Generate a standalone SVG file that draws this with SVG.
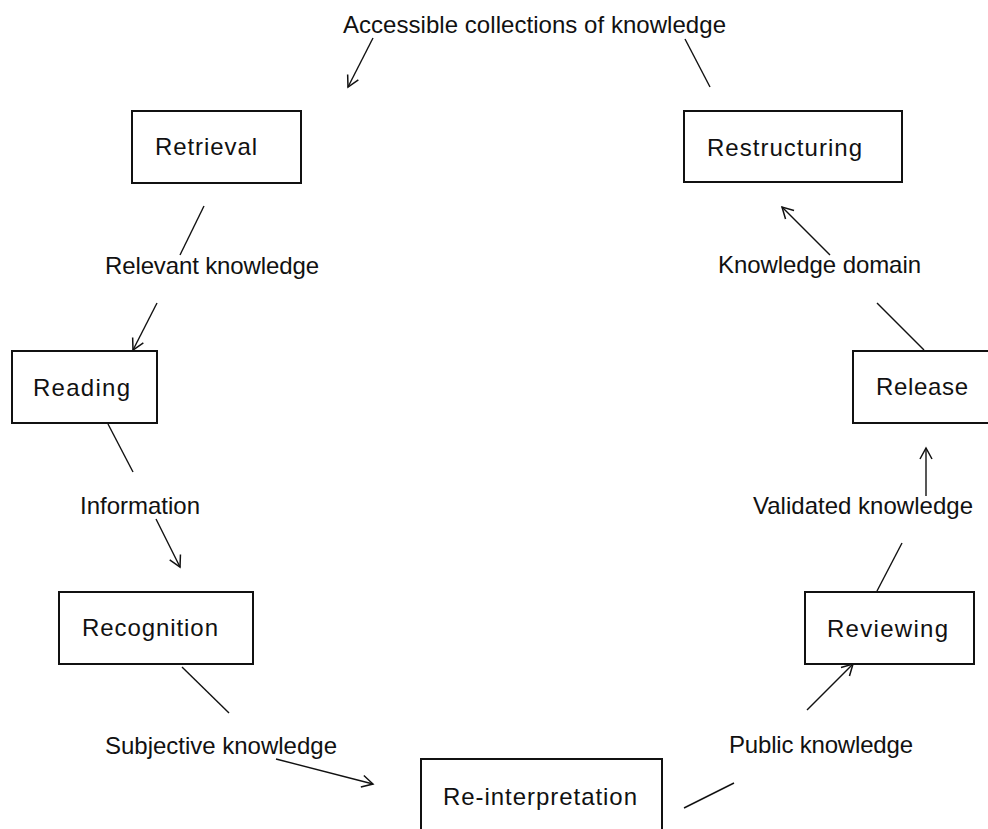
<svg xmlns="http://www.w3.org/2000/svg" width="988" height="829" viewBox="0 0 988 829">
<defs>
<marker id="arr" markerUnits="userSpaceOnUse" markerWidth="14" markerHeight="14" refX="11" refY="6" orient="auto" overflow="visible">
<path d="M0,0 L11,6 L0,12" fill="none" stroke="#111" stroke-width="1.5"/>
</marker>
</defs>
<style>
.box{fill:#fff;stroke:#111;stroke-width:2}
.t{font-family:"Liberation Sans",Arial,sans-serif;font-size:24px;fill:#111}
.c{stroke:#111;stroke-width:1.4;fill:none}
.a{marker-end:url(#arr)}
</style>
<rect width="988" height="829" fill="#fff"/>
<g id="connectors">
<line class="c a" x1="373" y1="38" x2="348" y2="87"/>
<line class="c" x1="685" y1="39" x2="710" y2="87"/>
<line class="c" x1="204" y1="206" x2="180" y2="255"/>
<line class="c a" x1="157" y1="303" x2="133" y2="350"/>
<line class="c a" x1="830" y1="255" x2="782" y2="207"/>
<line class="c" x1="877" y1="303" x2="924" y2="350"/>
<line class="c" x1="108" y1="424" x2="133" y2="472"/>
<line class="c a" x1="156" y1="519" x2="180" y2="567"/>
<line class="c a" x1="926" y1="496" x2="926" y2="448"/>
<line class="c" x1="902" y1="543" x2="877" y2="591"/>
<line class="c" x1="182" y1="667" x2="229" y2="713"/>
<line class="c a" x1="276" y1="759" x2="373" y2="784"/>
<line class="c" x1="684" y1="808" x2="734" y2="783"/>
<line class="c a" x1="807" y1="710" x2="853" y2="664"/>
</g>
<g id="labels">
<text class="t" x="343" y="33" textLength="383" lengthAdjust="spacing">Accessible collections of knowledge</text>
<text class="t" x="105" y="274" textLength="214" lengthAdjust="spacing">Relevant knowledge</text>
<text class="t" x="718" y="273" textLength="203" lengthAdjust="spacing">Knowledge domain</text>
<text class="t" x="80" y="514" textLength="120" lengthAdjust="spacing">Information</text>
<text class="t" x="753" y="514" textLength="220" lengthAdjust="spacing">Validated knowledge</text>
<text class="t" x="105" y="754" textLength="232" lengthAdjust="spacing">Subjective knowledge</text>
<text class="t" x="729" y="753" textLength="184" lengthAdjust="spacing">Public knowledge</text>
</g>
<g id="retrieval">
<rect class="box" x="132" y="111" width="169" height="72"/>
<text class="t" x="155" y="155" textLength="102" lengthAdjust="spacing">Retrieval</text>
</g>
<g id="restructuring">
<rect class="box" x="684" y="111" width="218" height="71"/>
<text class="t" x="707" y="156" textLength="155" lengthAdjust="spacing">Restructuring</text>
</g>
<g id="reading">
<rect class="box" x="12" y="351" width="145" height="72"/>
<text class="t" x="33" y="396" textLength="97" lengthAdjust="spacing">Reading</text>
</g>
<g id="release">
<rect class="box" x="853" y="351" width="145" height="72"/>
<text class="t" x="876" y="395" textLength="92" lengthAdjust="spacing">Release</text>
</g>
<g id="recognition">
<rect class="box" x="59" y="592" width="194" height="72"/>
<text class="t" x="82" y="636" textLength="136" lengthAdjust="spacing">Recognition</text>
</g>
<g id="reviewing">
<rect class="box" x="805" y="592" width="169" height="72"/>
<text class="t" x="827" y="637" textLength="121" lengthAdjust="spacing">Reviewing</text>
</g>
<g id="reinterpretation">
<rect class="box" x="421" y="759" width="241" height="90"/>
<text class="t" x="443" y="805" textLength="194" lengthAdjust="spacing">Re-interpretation</text>
</g>
</svg>
